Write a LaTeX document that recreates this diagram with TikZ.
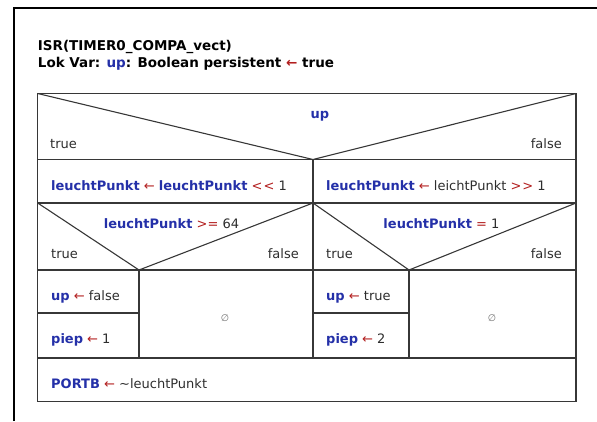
\documentclass[tikz,border=0pt]{standalone}
\usepackage{fontspec}
\setmainfont{DejaVu Sans}

\definecolor{varblue}{RGB}{36,48,168}
\definecolor{opred}{RGB}{178,30,30}
\definecolor{txtgray}{RGB}{45,45,45}
\definecolor{linegray}{RGB}{55,55,55}

\newcommand{\vn}[1]{\textcolor{varblue}{\textbf{#1}}}
\newcommand{\asg}{\textcolor{opred}{←}}
\newcommand{\opr}[1]{\textcolor{opred}{#1}}

\begin{document}
\begin{tikzpicture}[x=1pt, y=-1pt,
		font=\fontsize{13}{16}\selectfont,
		txt/.style={anchor=base west, inner sep=0pt, text=txtgray},
		rtxt/.style={anchor=base east, inner sep=0pt, text=txtgray},
		ctxt/.style={anchor=base, inner sep=0pt, text=txtgray},
		nix/.style={inner sep=0pt, text=gray!90!black, font=\fontsize{9.5}{9.5}\selectfont},
		grid/.style={line width=1.1pt, draw=linegray}]
			\useasboundingbox (0,0) rectangle (597,421);

			% frame of the page
			\draw [line width=1.6pt] (13.7,421) -- (13.7,8) -- (597,8);

			% header
			\node [txt, text=black, font=\fontsize{13.5}{16}\selectfont] (isr) at (37.7,50) {\bfseries ISR(TIMER0\_COMPA\_vect)};
			\node [txt, text=black, font=\fontsize{13.5}{16}\selectfont] (lokvar) at (37.7,67.3) {\bfseries Lok Var: \textcolor{varblue}{up}: Boolean persistent \asg{} true};

			% outer block and full rows
			\draw [grid] (37.7,93.5) rectangle (576,401.5);
			\draw [grid] (37.7,159.5) -- (576,159.5);
			\draw [grid] (37.7,203) -- (576,203);
			\draw [grid] (37.7,270) -- (576,270);
			\draw [grid] (37.7,358) -- (576,358);

			% branch on up
			\draw [grid] (37.7,93.5) -- (313,159.5) -- (576,93.5);
			\draw [grid] (313,159.5) -- (313,358);
			\node [ctxt] (up) at (320,118.3) {\vn{up}};
			\node [txt] (t1) at (50,148.3) {true};
			\node [rtxt] (f1) at (562,148.3) {false};

			\node [txt] (shl) at (51,190) {\vn{leuchtPunkt} \asg{} \vn{leuchtPunkt} \opr{<\kern1pt<} 1};
			\node [txt] (shr) at (326,190) {\vn{leuchtPunkt} \asg{} leichtPunkt \opr{>\kern1pt>} 1};

			% left sub branch
			\draw [grid] (37.7,203) -- (139,270) -- (313,203);
			\draw [grid] (139,270) -- (139,358);
			\draw [grid] (37.7,313) -- (139,313);
			\node [ctxt] (condL) at (171.5,228) {\vn{leuchtPunkt} \opr{>=} 64};
			\node [txt] (t2) at (51,258) {true};
			\node [rtxt] (f2) at (299,258) {false};
			\node [txt] (upF) at (51,300) {\vn{up} \asg{} false};
			\node [txt] (piep1) at (51,343) {\vn{piep} \asg{} 1};
			\node [nix] (emptyL) at (225,318) {∅};

			% right sub branch
			\draw [grid] (313,203) -- (409,270) -- (576,203);
			\draw [grid] (409,270) -- (409,358);
			\draw [grid] (313,313) -- (409,313);
			\node [ctxt] (condR) at (441.5,228) {\vn{leuchtPunkt} \opr{=} 1};
			\node [txt] (t3) at (326,258) {true};
			\node [rtxt] (f3) at (562,258) {false};
			\node [txt] (upT) at (326,300) {\vn{up} \asg{} true};
			\node [txt] (piep2) at (326,343) {\vn{piep} \asg{} 2};
			\node [nix] (emptyR) at (492,318) {∅};

			% last statement
			\node [txt] (portb) at (51,388) {\vn{PORTB} \asg{} \textasciitilde leuchtPunkt};
		\end{tikzpicture}
\end{document}
